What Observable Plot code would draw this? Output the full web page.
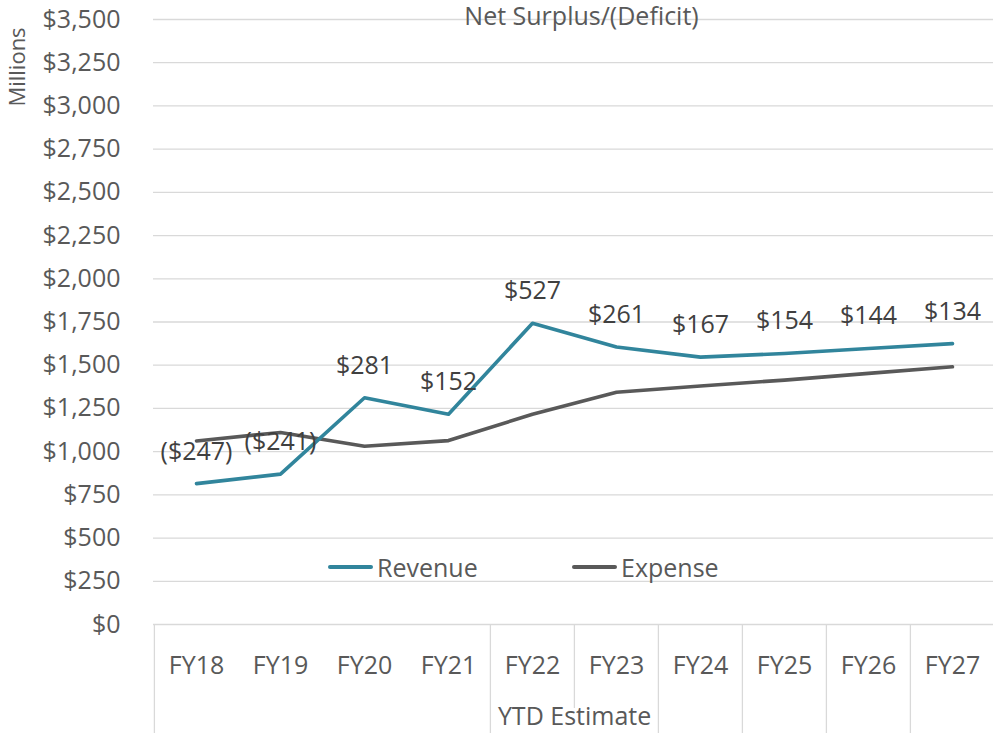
<!DOCTYPE html>
<html>
<head>
<meta charset="utf-8">
<script src="https://cdn.jsdelivr.net/npm/d3@7"></script>
<script src="https://cdn.jsdelivr.net/npm/@observablehq/plot@0.6"></script>
<style>
  html, body { margin: 0; padding: 0; background: #fff; overflow: hidden; }
  #wrap { position: relative; width: 993px; height: 733px; font-family: "Open Sans", sans-serif; overflow: hidden; }
  .ylab { position: absolute; left: 16px; top: 67px; font-size: 22px; color: #595959;
          transform: translate(-50%, -50%) rotate(-90deg); white-space: nowrap; line-height: 1; }
  .lg { position: absolute; display: flex; align-items: center; height: 30px; line-height: 30px;
        font-size: 25px; color: #595959; white-space: nowrap; }
  .sw { display: inline-block; width: 45px; height: 4px; border-radius: 2px; margin-right: 4px; }
</style>
</head>
<body>
<div id="wrap"></div>
<script>
// ---- data ----
const categories = ["FY18", "FY19", "FY20", "FY21", "FY22", "FY23", "FY24", "FY25", "FY26", "FY27"];
const revenue = [815, 870, 1312, 1216, 1743, 1605, 1547, 1568, 1597, 1625];
const expense = [1062, 1111, 1031, 1064, 1216, 1344, 1380, 1414, 1453, 1491];
const netLabels = ["($247)", "($241)", "$281", "$152", "$527", "$261", "$167", "$154", "$144", "$134"];
const yTicks = [0, 250, 500, 750, 1000, 1250, 1500, 1750, 2000, 2250, 2500, 2750, 3000, 3250, 3500];
const seriesNames = ["Revenue", "Expense"];
const seriesColors = ["#31859C", "#595959"];
const title = "Net Surplus/(Deficit)";
const yUnit = "Millions";
const groupLabel = "YTD Estimate";
const groupCats = ["FY22", "FY23"];
const fullSeparatorsBefore = ["FY18", "FY22", "FY24", "FY25", "FY26", "FY27"];
const innerSeparatorsBefore = ["FY23"];

// ---- layout ----
const W = 993, H = 733;
const mTop = 19, mBottom = 109, mLeft = 153;
const xRange = [153, 995];
const step = (xRange[1] - xRange[0]) / categories.length;
const frameH = H - mTop - mBottom;

const rows = categories.map((c, i) => ({cat: c, revenue: revenue[i], expense: expense[i], label: netLabels[i]}));

const chart = Plot.plot({
  width: W,
  height: H,
  marginTop: mTop,
  marginBottom: mBottom,
  marginLeft: mLeft,
  marginRight: 0,
  style: {fontFamily: "'Open Sans', sans-serif", fontSize: "25px", color: "#595959", background: "transparent"},
  x: {type: "point", domain: categories, range: xRange, padding: 0.5},
  y: {domain: [0, 3500]},
  marks: [
    Plot.gridY(yTicks, {stroke: "#d9d9d9", strokeOpacity: 1, strokeWidth: 1.3}),
    Plot.axisY(yTicks, {tickSize: 0, tickPadding: 33, tickFormat: d3.format("$,"), fill: "#595959", fontSize: 25, label: null, fontVariant: "normal"}),
    Plot.axisX({tickSize: 0, tickPadding: 32, fill: "#595959", fontSize: 25, label: null}),
    Plot.ruleX(fullSeparatorsBefore, {x: d => d, dx: -step / 2, stroke: "#d9d9d9", strokeWidth: 1.3, insetTop: frameH, insetBottom: -mBottom}),
    Plot.ruleX(innerSeparatorsBefore, {x: d => d, dx: -step / 2, stroke: "#d9d9d9", strokeWidth: 1.3, insetTop: frameH, insetBottom: -(708 - (H - mBottom))}),
    Plot.text([groupLabel], {x: () => groupCats[0], frameAnchor: "bottom", dx: step / 2, dy: mBottom - 9, lineAnchor: "bottom", fill: "#595959", fontSize: 25}),
    Plot.line(rows, {x: "cat", y: "expense", stroke: seriesColors[1], strokeWidth: 3.6, strokeLinejoin: "round", strokeLinecap: "round"}),
    Plot.line(rows, {x: "cat", y: "revenue", stroke: seriesColors[0], strokeWidth: 3.6, strokeLinejoin: "round", strokeLinecap: "round"}),
    Plot.text(rows, {x: "cat", y: "revenue", text: "label", dy: -32, fill: "#404040", fontSize: 25}),
    Plot.text([title], {frameAnchor: "top", dx: 8, dy: -12, fill: "#595959", fontSize: 25})
  ]
});

const wrap = document.getElementById("wrap");
wrap.appendChild(chart);

const ylab = document.createElement("div");
ylab.className = "ylab";
ylab.textContent = yUnit;
wrap.appendChild(ylab);

const legendPos = [328, 572];
seriesNames.forEach((name, i) => {
  const d = document.createElement("div");
  d.className = "lg";
  d.style.left = legendPos[i] + "px";
  d.style.top = "552px";
  const s = document.createElement("span");
  s.className = "sw";
  s.style.background = seriesColors[i];
  d.appendChild(s);
  d.appendChild(document.createTextNode(name));
  wrap.appendChild(d);
});
</script>
</body>
</html>
